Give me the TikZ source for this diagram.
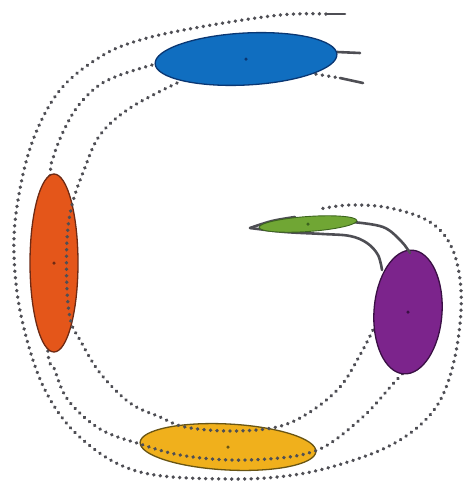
\documentclass[tikz,border=0pt]{standalone}
\usetikzlibrary{shapes.geometric}
\definecolor{trk}{RGB}{78,78,84}
\definecolor{bluef}{RGB}{16,110,192}
\definecolor{bluel}{RGB}{10,55,115}
\definecolor{orf}{RGB}{228,86,26}
\definecolor{orl}{RGB}{110,42,20}
\definecolor{yef}{RGB}{240,176,28}
\definecolor{yel}{RGB}{105,85,20}
\definecolor{puf}{RGB}{124,36,140}
\definecolor{pul}{RGB}{58,16,68}
\definecolor{grf}{RGB}{112,166,52}
\definecolor{grl}{RGB}{60,100,30}
\begin{document}
\begin{tikzpicture}[x=1pt,y=-1pt,
  trackdots/.style={draw=trk,line width=3.6pt,line cap=round,dash pattern=on 0.2pt off 6.3pt},
  solidtrk/.style={draw=trk,line width=2.6pt,line cap=round},
  blob/.style={ellipse,draw,line width=1.3pt,inner sep=0pt},
  ctr/.style={circle,inner sep=0pt,minimum size=3.5pt}]
\useasboundingbox (0,0) rectangle (469,485);
% yellow first (tracks visible over it)
\node[blob,fill=yef,draw=yel,minimum width=176pt,minimum height=46pt,rotate=-3] (yel) at (228,447) {};
% outer track A
\draw[solidtrk] (345,14) -- (326,14);
\draw[trackdots] plot[smooth,tension=0.6] coordinates {(326,14) (280,15) (200,27) (140,40) (100,57) (60,90) (33,140) (18,200) (14,255) (22,320) (45,390) (83,440) (140,472) (230,479) (300,474) (360,458) (400,440) (430,415) (447,385) (458,340) (461,290) (452,248) (430,222) (390,208) (350,205) (320,209)};
% middle track B
\draw[solidtrk] (337,52) -- (360,53);
\draw[trackdots] plot[smooth,tension=0.6] coordinates {(152,65) (120,75) (98,86) (78,106) (64,130) (54,155) (50,176) (46,260) (48,352) (54,368) (68,400) (100,429) (140,444) (180,455) (230,460) (280,458) (312,452) (335,440) (367,413) (392,385) (403,373)};
% orange
\node[blob,fill=orf,draw=orl,minimum width=48pt,minimum height=178pt] (org) at (54,263) {};
% inner track C
\draw[trackdots] (303,72) -- (340,78);
\draw[solidtrk] (340,78) -- (363,83);
\draw[trackdots] plot[smooth,tension=0.6] coordinates {(177,83) (130,108) (100,135) (84,170) (72,205) (67,240) (67,290) (71,322) (80,340) (100,373) (130,403) (160,417) (185,427) (230,431) (277,427) (310,412) (340,387) (360,355) (373,330)};
% blue
\node[blob,fill=bluef,draw=bluel,minimum width=182pt,minimum height=52pt,rotate=3] (blu) at (246,59) {};
% purple
\node[blob,fill=puf,draw=pul,minimum width=68pt,minimum height=124pt,rotate=-4] (pur) at (408,312) {};
% solid links between green and purple
\draw[solidtrk] plot[smooth,tension=0.6] coordinates {(352,222) (383,227) (401,241) (410,253)};
\draw[solidtrk] plot[smooth,tension=0.6] coordinates {(250,228) (285,232) (323,234) (350,236) (367,243) (378,255) (382,270)};
\draw[solidtrk] plot[smooth,tension=0.6] coordinates {(250,228) (272,221) (295,217)};
% green
\node[blob,fill=grf,draw=grl,minimum width=98pt,minimum height=15pt,rotate=4,line width=0.9pt] (grn) at (308,224) {};
% centre dots
\foreach \n/\c in {blu/bluel,org/orl,yel/yel,pur/pul,grn/grl}
  \node[ctr,fill=\c] at (\n.center) {};
\end{tikzpicture}
\end{document}
